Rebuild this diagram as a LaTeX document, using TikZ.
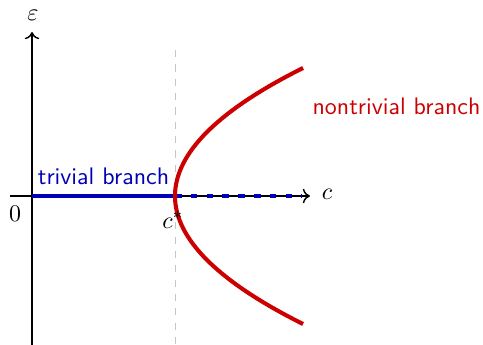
\documentclass[tikz,border=0pt]{standalone}
\usetikzlibrary{arrows.meta}
\definecolor{tblue}{rgb}{0,0,0.72}
\definecolor{tred}{rgb}{0.8,0,0}
\begin{document}
\begin{tikzpicture}[x=0.0147cm,y=-0.0147cm,
  axis/.style={semithick,-{To[length=3pt,width=6pt]}},
  triv/.style={tblue,line width=1.7pt},
  nontriv/.style={tred,line width=1.7pt},
  lbl/.style={inner sep=1pt}]
\useasboundingbox (0,0) rectangle (483,345);
\coordinate (O) at (32,196);
\coordinate (xend) at (310,196);
\coordinate (xstart) at (10,196);
\coordinate (ystart) at (32,345);
\coordinate (yend) at (32,32);
\coordinate (cs) at (175,196);
\coordinate (vtop) at (175,50);
\coordinate (vbot) at (175,345);
\coordinate (ptop) at (303,68);
\coordinate (pbot) at (303,324);
\coordinate (dend) at (302,196);
\draw[gray!45,thin,dashed] (vtop) -- (vbot);
\draw[axis] (xstart) -- (xend);
\draw[axis] (ystart) -- (yend);
\draw[triv] (O) -- (cs);
\draw[triv,dash pattern=on 2.8pt off 3.8pt] (cs) -- (dend);
\draw[nontriv] (ptop) .. controls (132.33,153.33) and (132.33,238.67) .. (pbot);
\node[lbl] (eps) at (33,15) {$\varepsilon$};
\node[lbl] (cl) at (327,194) {$c$};
\node[lbl] (zero) at (15,214) {$0$};
\node[lbl] (cstar) at (173,220) {$c^{*}$};
\node[lbl,tblue,font=\sffamily] (tb) at (103.5,176) {trivial branch};
\node[lbl,tred,font=\sffamily] (nb) at (396.5,106) {nontrivial branch};
\end{tikzpicture}
\end{document}
